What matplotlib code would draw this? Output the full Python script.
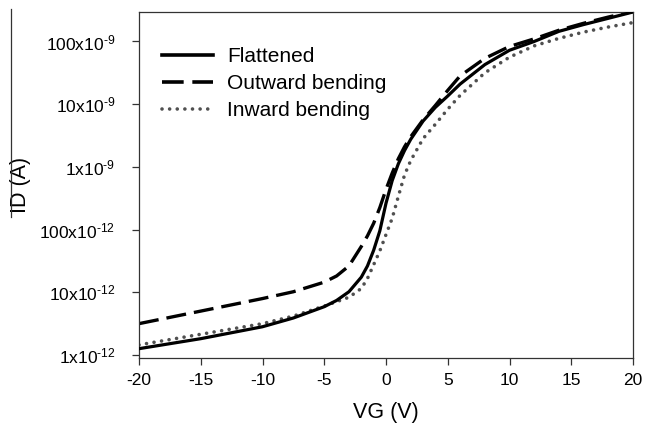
import matplotlib
matplotlib.use("Agg")
import matplotlib.pyplot as plt
from matplotlib.lines import Line2D

plt.rcParams['font.family'] = ['Liberation Sans', 'DejaVu Sans']
plt.rcParams['mathtext.fontset'] = 'custom'
plt.rcParams['mathtext.rm'] = 'Liberation Sans'
plt.rcParams['mathtext.it'] = 'Liberation Sans:italic'
plt.rcParams['mathtext.bf'] = 'Liberation Sans:bold'

vg = [-20, -15, -10, -7.5, -5, -4, -3, -2, -1.5, -1, -0.5, 0, 0.5, 1, 1.5, 2,
      3, 4, 5, 6, 8, 10, 12, 14, 16, 18, 20]

flattened = [1.26e-12, 1.82e-12, 2.82e-12, 3.89e-12, 5.89e-12, 7.41e-12, 1.02e-11,
             1.74e-11, 2.63e-11, 4.68e-11, 9.55e-11, 2.63e-10, 6.03e-10, 1.12e-9,
             1.82e-9, 2.75e-9, 5.37e-9, 8.91e-9, 1.35e-8, 2.09e-8, 4.27e-8,
             7.24e-8, 1.0e-7, 1.45e-7, 1.86e-7, 2.34e-7, 2.95e-7]

outward = [3.16e-12, 5.01e-12, 7.94e-12, 1.02e-11, 1.45e-11, 1.82e-11, 2.63e-11,
           5.37e-11, 7.94e-11, 1.26e-10, 2.24e-10, 4.37e-10, 7.94e-10, 1.35e-9,
           2.09e-9, 3.02e-9, 5.62e-9, 9.55e-9, 1.66e-8, 2.82e-8, 5.37e-8,
           8.32e-8, 1.10e-7, 1.51e-7, 1.95e-7, 2.45e-7, 3.02e-7]

inward = [1.45e-12, 2.14e-12, 3.16e-12, 4.17e-12, 6.03e-12, 7.08e-12, 8.32e-12,
          1.15e-11, 1.66e-11, 2.75e-11, 4.57e-11, 8.32e-11, 1.51e-10, 3.39e-10,
          7.41e-10, 1.26e-9, 2.82e-9, 4.79e-9, 8.32e-9, 1.38e-8, 3.16e-8,
          5.62e-8, 8.51e-8, 1.12e-7, 1.41e-7, 1.70e-7, 2.00e-7]

series_names = ["Flattened", "Outward bending", "Inward bending"]

x_ticks = [-20, -15, -10, -5, 0, 5, 10, 15, 20]
y_ticks = [1e-12, 1e-11, 1e-10, 1e-9, 1e-8, 1e-7]
y_tick_labels = [r"$\mathregular{1x10^{\text{-}12}}$", r"$\mathregular{10x10^{\text{-}12}}$",
                 r"$\mathregular{100x10^{\text{-}12}}$", r"$\mathregular{1x10^{\text{-}9}}$",
                 r"$\mathregular{10x10^{\text{-}9}}$", r"$\mathregular{100x10^{\text{-}9}}$"]

W, H = 646, 425
fig = plt.figure(figsize=(W/100, H/100), dpi=100)
ax = fig.add_axes([139/W, 1-358/H, (633-139)/W, (358-12)/H])

dot_color = "#505050"
dash_pat = (0, (6.0, 2.4))
dot_pat = (0, (0.01, 2.1))
ax.plot(vg, flattened, color="black", lw=2.3, solid_capstyle="round",
        solid_joinstyle="round", zorder=3)
ax.plot(vg, outward, color="black", lw=2.4, linestyle=dash_pat,
        dash_capstyle="butt", dash_joinstyle="round", zorder=2)
ax.plot(vg, inward, color=dot_color, lw=2.6, linestyle=dot_pat,
        dash_capstyle="round", zorder=2)

ax.set_yscale("log")
ax.set_xlim(-20, 20)
ax.set_ylim(0.895e-12, 2.95e-7)
ax.set_xticks(x_ticks)
ax.set_xticklabels([str(t) for t in x_ticks])
ax.set_yticks(y_ticks)
ax.set_yticklabels(y_tick_labels)
ax.minorticks_off()
ax.tick_params(axis="both", direction="out", length=5, width=0.9, labelsize=12.5,
               color="#333333")
ax.tick_params(axis="x", pad=6)
ax.tick_params(axis="y", pad=12)
for s in ax.spines.values():
    s.set_linewidth(0.9)
    s.set_color("#333333")

ax.set_xlabel("VG (V)", fontsize=15.5)
ax.xaxis.set_label_coords(386/W, 1-402/H, transform=fig.transFigure)
ax.set_ylabel("ID (A)", fontsize=15.5)
ax.yaxis.set_label_coords(31/W, 1-185/H, transform=fig.transFigure)

handles = [
    Line2D([], [], color="black", lw=2.6),
    Line2D([], [], color="black", lw=2.6, linestyle=dash_pat),
    Line2D([], [], color=dot_color, lw=2.6, linestyle=dot_pat,
           dash_capstyle="round"),
]
ax.legend(handles, series_names, loc="upper left", frameon=False, fontsize=15,
          handlelength=2.45, handletextpad=0.67, labelspacing=0.38,
          borderpad=0, borderaxespad=0,
          bbox_to_anchor=(162/W, 1-47/H), bbox_transform=fig.transFigure)

fig.add_artist(Line2D([11/W, 11/W], [1-9/H, 1-217/H], color="#333333",
                      lw=0.9, transform=fig.transFigure))

fig.savefig("out.png", dpi=100)
